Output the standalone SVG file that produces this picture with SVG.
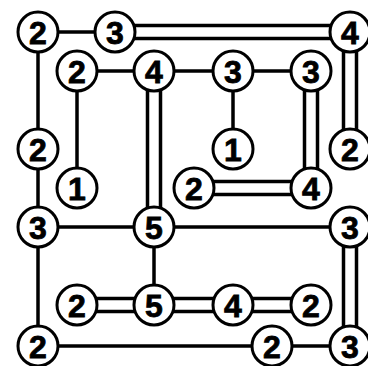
<svg xmlns="http://www.w3.org/2000/svg" width="368" height="366" viewBox="0 0 368 366">
<style>
.c{fill:#fff;stroke:#000;stroke-width:3}
.t{font-family:"Liberation Sans",Arial,sans-serif;font-weight:bold;font-size:32px;text-anchor:middle;stroke:#000;stroke-width:0.8}
#connectors line{stroke:#000;stroke-width:3.5}
</style>
<rect width="368" height="366" fill="#fff"/>
<g id="connectors">
<line x1="38" y1="32" x2="115" y2="32"/>
<line x1="115" y1="25.5" x2="350" y2="25.5"/><line x1="115" y1="38.5" x2="350" y2="38.5"/>
<line x1="38" y1="32" x2="38" y2="346"/>
<line x1="38" y1="227" x2="350" y2="227"/>
<line x1="343.5" y1="32" x2="343.5" y2="149"/><line x1="356.5" y1="32" x2="356.5" y2="149"/>
<line x1="343.5" y1="227" x2="343.5" y2="346"/><line x1="356.5" y1="227" x2="356.5" y2="346"/>
<line x1="38" y1="346" x2="350" y2="346"/>
<line x1="77" y1="71" x2="311" y2="71"/>
<line x1="77" y1="71" x2="77" y2="188"/>
<line x1="147.5" y1="71" x2="147.5" y2="227"/><line x1="160.5" y1="71" x2="160.5" y2="227"/>
<line x1="233" y1="71" x2="233" y2="149"/>
<line x1="304.5" y1="71" x2="304.5" y2="188"/><line x1="317.5" y1="71" x2="317.5" y2="188"/>
<line x1="194" y1="181.5" x2="311" y2="181.5"/><line x1="194" y1="194.5" x2="311" y2="194.5"/>
<line x1="154" y1="227" x2="154" y2="305"/>
<line x1="77" y1="298.5" x2="311" y2="298.5"/><line x1="77" y1="311.5" x2="311" y2="311.5"/>
</g>
<g id="n1"><circle class="c" cx="38" cy="32" r="20"/><text class="t" x="38" y="43.5">2</text></g>
<g id="n2"><circle class="c" cx="115" cy="32" r="20"/><text class="t" x="115" y="43.5">3</text></g>
<g id="n3"><circle class="c" cx="350" cy="32" r="20"/><text class="t" x="350" y="43.5">4</text></g>
<g id="n4"><circle class="c" cx="77" cy="71" r="20"/><text class="t" x="77" y="82.5">2</text></g>
<g id="n5"><circle class="c" cx="154" cy="71" r="20"/><text class="t" x="154" y="82.5">4</text></g>
<g id="n6"><circle class="c" cx="233" cy="71" r="20"/><text class="t" x="233" y="82.5">3</text></g>
<g id="n7"><circle class="c" cx="311" cy="71" r="20"/><text class="t" x="311" y="82.5">3</text></g>
<g id="n8"><circle class="c" cx="38" cy="149" r="20"/><text class="t" x="38" y="160.5">2</text></g>
<g id="n9"><circle class="c" cx="233" cy="149" r="20"/><text class="t" x="233" y="160.5">1</text></g>
<g id="n10"><circle class="c" cx="350" cy="149" r="20"/><text class="t" x="350" y="160.5">2</text></g>
<g id="n11"><circle class="c" cx="77" cy="188" r="20"/><text class="t" x="77" y="199.5">1</text></g>
<g id="n12"><circle class="c" cx="194" cy="188" r="20"/><text class="t" x="194" y="199.5">2</text></g>
<g id="n13"><circle class="c" cx="311" cy="188" r="20"/><text class="t" x="311" y="199.5">4</text></g>
<g id="n14"><circle class="c" cx="38" cy="227" r="20"/><text class="t" x="38" y="238.5">3</text></g>
<g id="n15"><circle class="c" cx="154" cy="227" r="20"/><text class="t" x="154" y="238.5">5</text></g>
<g id="n16"><circle class="c" cx="350" cy="227" r="20"/><text class="t" x="350" y="238.5">3</text></g>
<g id="n17"><circle class="c" cx="77" cy="305" r="20"/><text class="t" x="77" y="316.5">2</text></g>
<g id="n18"><circle class="c" cx="154" cy="305" r="20"/><text class="t" x="154" y="316.5">5</text></g>
<g id="n19"><circle class="c" cx="233" cy="305" r="20"/><text class="t" x="233" y="316.5">4</text></g>
<g id="n20"><circle class="c" cx="311" cy="305" r="20"/><text class="t" x="311" y="316.5">2</text></g>
<g id="n21"><circle class="c" cx="38" cy="346" r="20"/><text class="t" x="38" y="357.5">2</text></g>
<g id="n22"><circle class="c" cx="272" cy="346" r="20"/><text class="t" x="272" y="357.5">2</text></g>
<g id="n23"><circle class="c" cx="350" cy="346" r="20"/><text class="t" x="350" y="357.5">3</text></g>
</svg>
